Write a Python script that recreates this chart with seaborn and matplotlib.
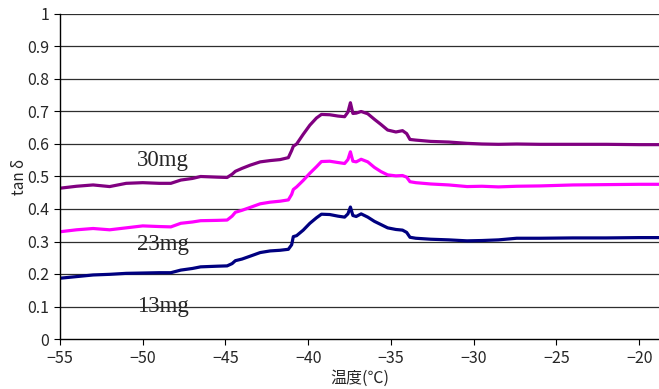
import matplotlib
matplotlib.use("Agg")
import matplotlib.pyplot as plt
import seaborn as sns
import pandas as pd

temps = [-55, -54, -53, -52, -51, -50, -49, -48.3, -47.7, -47, -46.5, -45.5, -44.9, -44.6, -44.4,
         -44.0, -43.5, -42.9, -42.3, -41.7, -41.2, -41.0, -40.9, -40.7, -40.3, -39.9, -39.5, -39.2,
         -38.7, -38.2, -37.8, -37.6, -37.45, -37.3, -37.1, -36.8, -36.4, -36.0, -35.6, -35.2, -34.7,
         -34.3, -34.05, -33.85, -33.5, -32.6, -31.5, -30.4, -29.5, -28.5, -27.4, -26, -24, -22, -20, -18.8]

tan_13mg = [0.187, 0.192, 0.197, 0.199, 0.202, 0.203, 0.204, 0.204, 0.212, 0.217, 0.222, 0.224, 0.225,
            0.232, 0.241, 0.246, 0.255, 0.266, 0.271, 0.273, 0.276, 0.29, 0.315, 0.318, 0.335, 0.356,
            0.373, 0.384, 0.383, 0.378, 0.375, 0.385, 0.406, 0.38, 0.377, 0.385, 0.375, 0.362, 0.352,
            0.342, 0.337, 0.335, 0.328, 0.313, 0.31, 0.307, 0.305, 0.302, 0.303, 0.305, 0.31, 0.31,
            0.311, 0.311, 0.312, 0.312]

tan_23mg = [0.330, 0.336, 0.340, 0.336, 0.342, 0.348, 0.346, 0.345, 0.356, 0.36, 0.364, 0.365, 0.366,
            0.378, 0.39, 0.396, 0.405, 0.416, 0.421, 0.424, 0.428, 0.445, 0.46, 0.468, 0.488, 0.51,
            0.53, 0.546, 0.547, 0.543, 0.54, 0.552, 0.576, 0.547, 0.545, 0.553, 0.545, 0.528, 0.515,
            0.505, 0.502, 0.503, 0.498, 0.484, 0.481, 0.477, 0.474, 0.469, 0.47, 0.468, 0.47, 0.471,
            0.474, 0.475, 0.476, 0.476]

tan_30mg = [0.464, 0.470, 0.474, 0.469, 0.479, 0.481, 0.479, 0.479, 0.489, 0.494, 0.5, 0.498, 0.497,
            0.507, 0.516, 0.525, 0.535, 0.545, 0.549, 0.552, 0.558, 0.58, 0.593, 0.6, 0.63, 0.658,
            0.68, 0.691, 0.69, 0.686, 0.684, 0.698, 0.727, 0.694, 0.695, 0.7, 0.693, 0.676, 0.66,
            0.643, 0.637, 0.641, 0.632, 0.614, 0.612, 0.608, 0.606, 0.602, 0.6, 0.599, 0.6, 0.599,
            0.599, 0.599, 0.598, 0.598]

series_names = ["13mg", "23mg", "30mg"]
series_colors = ["#000080", "#FF00FF", "#800080"]
label_pos = [(-48.8, 0.10), (-48.8, 0.29), (-48.8, 0.55)]

x_ticks = [-55, -50, -45, -40, -35, -30, -25, -20]
y_ticks = [0, 0.1, 0.2, 0.3, 0.4, 0.5, 0.6, 0.7, 0.8, 0.9, 1]
y_ticklabels = ["0", "0.1", "0.2", "0.3", "0.4", "0.5", "0.6", "0.7", "0.8", "0.9", "1"]

df = pd.concat([
    pd.DataFrame({"temp": temps, "tan": vals, "sample": name})
    for name, vals in zip(series_names, [tan_13mg, tan_23mg, tan_30mg])
])

sns.set_style("white")
plt.rcParams["font.family"] = ["Noto Sans CJK JP", "DejaVu Sans"]

fig = plt.figure(figsize=(6.59, 3.89), dpi=100)
ax = fig.add_axes([60 / 659, 50 / 389, 599 / 659, 325 / 389])

for y in y_ticks[1:]:
    ax.axhline(y, color="#2e2e2e", lw=0.9, zorder=0)

sns.lineplot(data=df, x="temp", y="tan", hue="sample", palette=dict(zip(series_names, series_colors)),
             lw=2.3, legend=False, ax=ax, sort=False, estimator=None)

for name, (lx, ly) in zip(series_names, label_pos):
    ax.text(lx, ly, name, family="Liberation Serif", fontsize=16.5, ha="center", va="center")

ax.set_xlim(-55, -18.8)
ax.set_ylim(0, 1)
ax.set_xticks(x_ticks)
ax.set_yticks(y_ticks)
ax.set_yticklabels(y_ticklabels)
ax.tick_params(axis="both", direction="out", length=4, width=0.8, color="black",
               labelsize=11.5, pad=4, left=True, bottom=True)
for s in ["top", "right"]:
    ax.spines[s].set_visible(False)
for s in ["left", "bottom"]:
    ax.spines[s].set_color("black")
    ax.spines[s].set_linewidth(1.0)

ax.set_xlabel("温度(℃)", fontsize=11.5, labelpad=2)
ax.set_ylabel("tan δ", fontsize=11)
ax.yaxis.set_label_coords(-0.053, 0.5)

fig.savefig("out.png", dpi=100)
